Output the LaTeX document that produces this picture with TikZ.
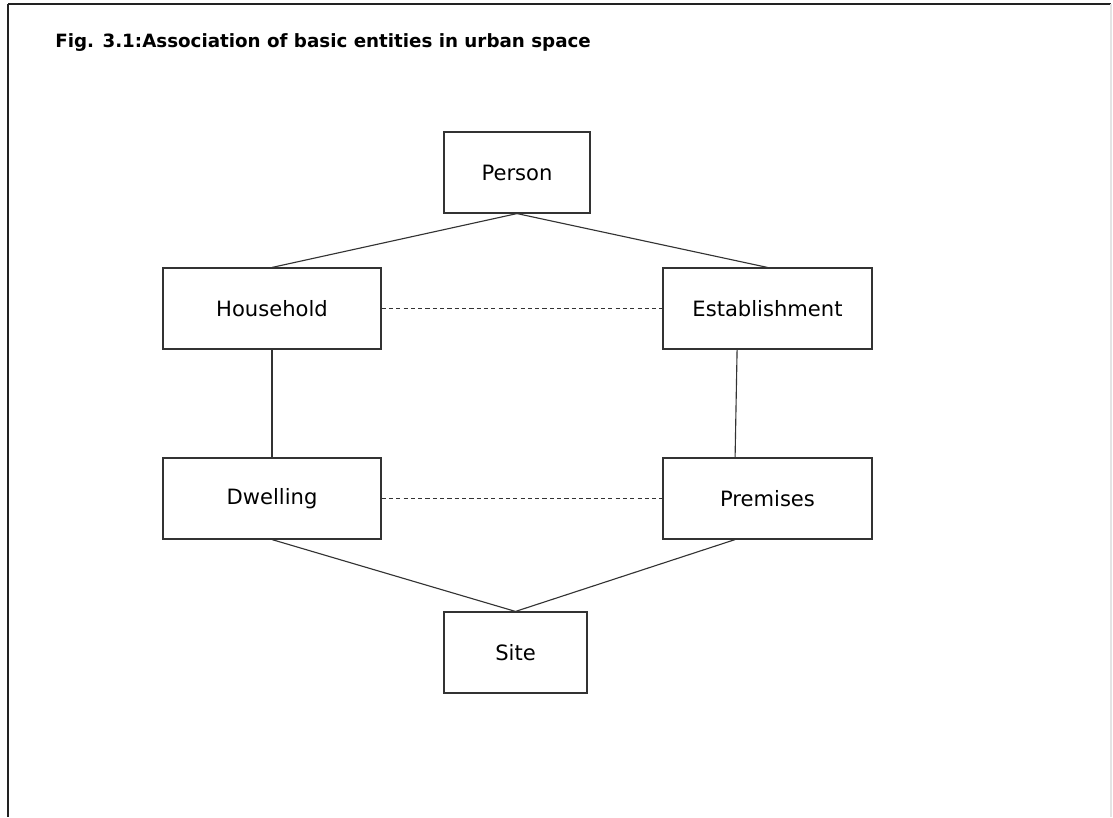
\documentclass[tikz,border=0pt]{standalone}
\usepackage{fontspec}
\setmainfont{DejaVu Sans}
\usepackage{xcolor}
\definecolor{entline}{HTML}{333333}
\definecolor{entframe}{HTML}{222222}
\definecolor{entfaint}{HTML}{E4E4E4}
\usepackage{tikz}
\usetikzlibrary{positioning}

\begin{document}
\begin{tikzpicture}[
  x=0.025cm, y=-0.025cm,
  ent/.style={rectangle, draw=entline, line width=0.8pt, minimum height=2.025cm,
    inner sep=0pt, font=\fontsize{15}{18}\selectfont},
  link/.style={entline, line width=0.8pt},
  assoc/.style={entline, line width=0.8pt, dash pattern=on 3pt off 2.2pt}
]
\useasboundingbox (0,0) rectangle (1113,817);
% frame
\draw[entframe, line width=1.3pt] (8,4) -- (1111,4);
\draw[entframe, line width=1.3pt] (8,4) -- (8,817);
\draw[entfaint, line width=1pt] (1111,4) -- (1111,817);
\node[anchor=base west, inner sep=0pt, font=\fontsize{13}{15}\selectfont\bfseries] (title) at (55,47) {Fig. 3.1:Association of basic entities in urban space};
% entities
\node[ent, minimum width=3.65cm] (person) at (517,172.5) {Person};
\node[ent, minimum width=5.45cm] (household) at (272,308.5) {Household};
\node[ent, minimum width=5.225cm] (estab) at (767.5,308.5) {Establishment};
\node[ent, minimum width=5.45cm] (dwelling) at (272,498.5) {Dwelling};
\node[ent, minimum width=5.225cm] (premises) at (767.5,498.5) {Premises};
\node[ent, minimum width=3.575cm] (site) at (515.5,652.5) {Site};
% associations
\draw[link] (person.south) -- (household.north);
\draw[link] (person.south) -- (estab.north);
\draw[link] (household.south) -- (dwelling.north);
\draw[link] ([xshift=-0.76cm]estab.south) -- ([xshift=-0.81cm]premises.north);
\draw[link] (dwelling.south) -- (site.north);
\draw[link] ([xshift=-0.81cm]premises.south) -- (site.north);
\draw[assoc] (household.east) -- (estab.west);
\draw[assoc] (dwelling.east) -- (premises.west);
\end{tikzpicture}
\end{document}
